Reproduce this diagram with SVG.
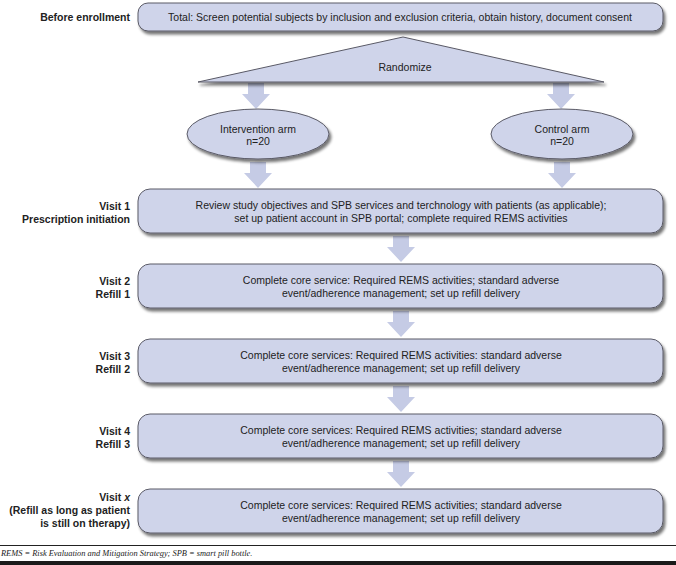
<svg xmlns="http://www.w3.org/2000/svg" width="676" height="565" viewBox="0 0 676 565">
<style>
.box{fill:#cfd4ea;stroke:#5a5a66;stroke-width:1;filter:url(#sh)}
.arr{fill:#c5cbe5}
.t{font-family:"Liberation Sans",Arial,sans-serif;font-size:10.5px;fill:#222;text-anchor:middle}
.lb{font-family:"Liberation Sans",Arial,sans-serif;font-size:10.5px;font-weight:bold;fill:#222;text-anchor:end}
.fn{font-family:"Liberation Serif","Times New Roman",serif;font-style:italic;font-size:8.4px;fill:#222}
</style>
<defs>
<filter id="sh" x="-5%" y="-20%" width="110%" height="150%">
<feGaussianBlur in="SourceAlpha" stdDeviation="1.5"/>
<feOffset dx="2" dy="3" result="b"/>
<feComponentTransfer><feFuncA type="linear" slope="0.55"/></feComponentTransfer>
<feMerge><feMergeNode/><feMergeNode in="SourceGraphic"/></feMerge>
</filter>
<path id="a" d="M-8,0 H8 V11 H14 L0,26 L-14,11 H-8 Z"/>
</defs>
<rect width="676" height="565" fill="#fff"/>
<g id="connectors">
<use href="#a" class="arr" x="256" y="83"/>
<use href="#a" class="arr" x="561" y="83"/>
<use href="#a" class="arr" x="258" y="162"/>
<use href="#a" class="arr" x="562" y="162"/>
<use href="#a" class="arr" x="401" y="236"/>
<use href="#a" class="arr" x="401" y="311"/>
<use href="#a" class="arr" x="401" y="386"/>
<use href="#a" class="arr" x="401" y="461"/>
</g>
<g id="before">
<text class="lb" x="130" y="21">Before enrollment</text>
<rect class="box" x="138" y="3" width="525" height="28" rx="10"/>
<text class="t" x="400" y="21">Total: Screen potential subjects by inclusion and exclusion criteria, obtain history, document consent</text>
</g>
<g id="randomize">
<polygon class="box" points="198,82 403,37 604,82"/>
<text class="t" x="405" y="71">Randomize</text>
</g>
<g id="intervention">
<ellipse class="box" cx="258" cy="134" rx="71" ry="25"/>
<text class="t" x="258" y="133">Intervention arm</text>
<text class="t" x="258" y="145">n=20</text>
</g>
<g id="control">
<ellipse class="box" cx="562" cy="134" rx="71" ry="25"/>
<text class="t" x="562" y="133">Control arm</text>
<text class="t" x="562" y="145">n=20</text>
</g>
<g id="visit1">
<text class="lb" x="130" y="210">Visit 1</text>
<text class="lb" x="130" y="223">Prescription initiation</text>
<rect class="box" x="138" y="189" width="525" height="44" rx="12"/>
<text class="t" x="401" y="209">Review study objectives and SPB services and terchnology with patients (as applicable);</text>
<text class="t" x="401" y="222">set up patient account in SPB portal; complete required REMS activities</text>
</g>
<g id="visit2">
<text class="lb" x="130" y="285">Visit 2</text>
<text class="lb" x="130" y="298">Refill 1</text>
<rect class="box" x="138" y="264" width="525" height="44" rx="12"/>
<text class="t" x="401" y="284">Complete core service: Required REMS activities; standard adverse</text>
<text class="t" x="401" y="297">event/adherence management; set up refill delivery</text>
</g>
<g id="visit3">
<text class="lb" x="130" y="360">Visit 3</text>
<text class="lb" x="130" y="373">Refill 2</text>
<rect class="box" x="138" y="339" width="525" height="44" rx="12"/>
<text class="t" x="401" y="359">Complete core services: Required REMS activities: standard adverse</text>
<text class="t" x="401" y="372">event/adherence management; set up refill delivery</text>
</g>
<g id="visit4">
<text class="lb" x="130" y="435">Visit 4</text>
<text class="lb" x="130" y="448">Refill 3</text>
<rect class="box" x="138" y="414" width="525" height="44" rx="12"/>
<text class="t" x="401" y="434">Complete core services: Required REMS activities; standard adverse</text>
<text class="t" x="401" y="447">event/adherence management; set up refill delivery</text>
</g>
<g id="visitx">
<text class="lb" x="130" y="501">Visit <tspan font-style="italic">x</tspan></text>
<text class="lb" x="130" y="514">(Refill as long as patient</text>
<text class="lb" x="130" y="527">is still on therapy)</text>
<rect class="box" x="138" y="489" width="525" height="44" rx="12"/>
<text class="t" x="401" y="509">Complete core services: Required REMS activities; standard adverse</text>
<text class="t" x="401" y="522">event/adherence management; set up refill delivery</text>
</g>
<g id="footer">
<line x1="0" y1="545.5" x2="676" y2="545.5" stroke="#222" stroke-width="1"/>
<text class="fn" x="1" y="556">REMS = Risk Evaluation and Mitigation Strategy; SPB = smart pill bottle.</text>
<rect x="0" y="561" width="676" height="4" fill="#1a1a1a"/>
</g>
</svg>
